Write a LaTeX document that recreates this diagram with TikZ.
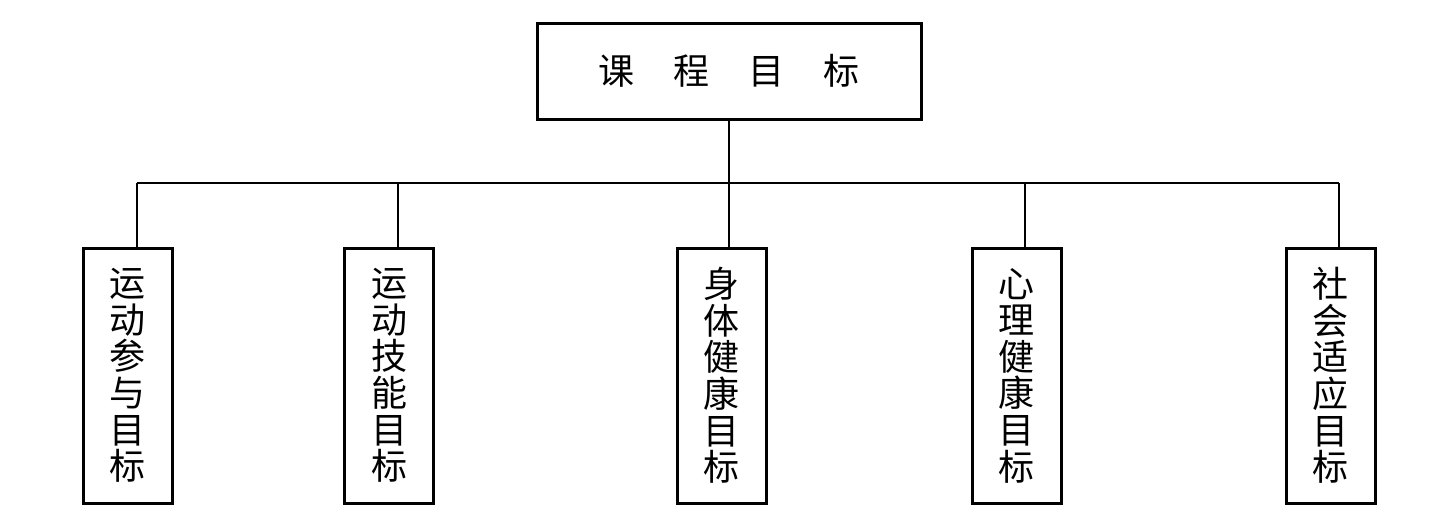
\documentclass[tikz,border=0pt]{standalone}
\usepackage{fontspec}
\newfontfamily\cjk{Noto Sans CJK SC}
\begin{document}
\begin{tikzpicture}[x=0.5pt,y=-0.5pt,
  box/.style={draw, line width=1.5pt, inner sep=0pt, align=center,
    font=\cjk\fontsize{18}{18.3}\selectfont},
  kid/.style={box, minimum width=44.5pt, minimum height=127.5pt},
  conn/.style={line width=1.4pt}]
\useasboundingbox (0,0) rectangle (1440,527);
\node[box, minimum width=192pt, minimum height=48pt] (top) at (729,71)
  {课\hspace{19.5pt}程\hspace{19.5pt}目\hspace{19.5pt}标};
\node[kid] (c1) at (127.5,375.5) {运\\动\\参\\与\\目\\标};
\node[kid] (c2) at (389,375.5) {运\\动\\技\\能\\目\\标};
\node[kid] (c3) at (721.5,375.5) {身\\体\\健\\康\\目\\标};
\node[kid] (c4) at (1016.5,375.5) {心\\理\\健\\康\\目\\标};
\node[kid] (c5) at (1330.5,375.5) {社\\会\\适\\应\\目\\标};
\coordinate (s1) at ([xshift=4.75pt]c1.north);
\coordinate (s2) at ([xshift=4.5pt]c2.north);
\coordinate (s3) at ([xshift=3.75pt]c3.north);
\coordinate (s4) at ([xshift=4.25pt]c4.north);
\coordinate (s5) at ([xshift=4.25pt]c5.north);
\coordinate (bus) at (729,183);
\draw[conn] (top.south) -- (top.south |- bus);
\draw[conn] (s1 |- bus) -- (s5 |- bus);
\foreach \s in {s1,s2,s3,s4,s5}
  \draw[conn] (\s |- bus) -- (\s);
\end{tikzpicture}
\end{document}
